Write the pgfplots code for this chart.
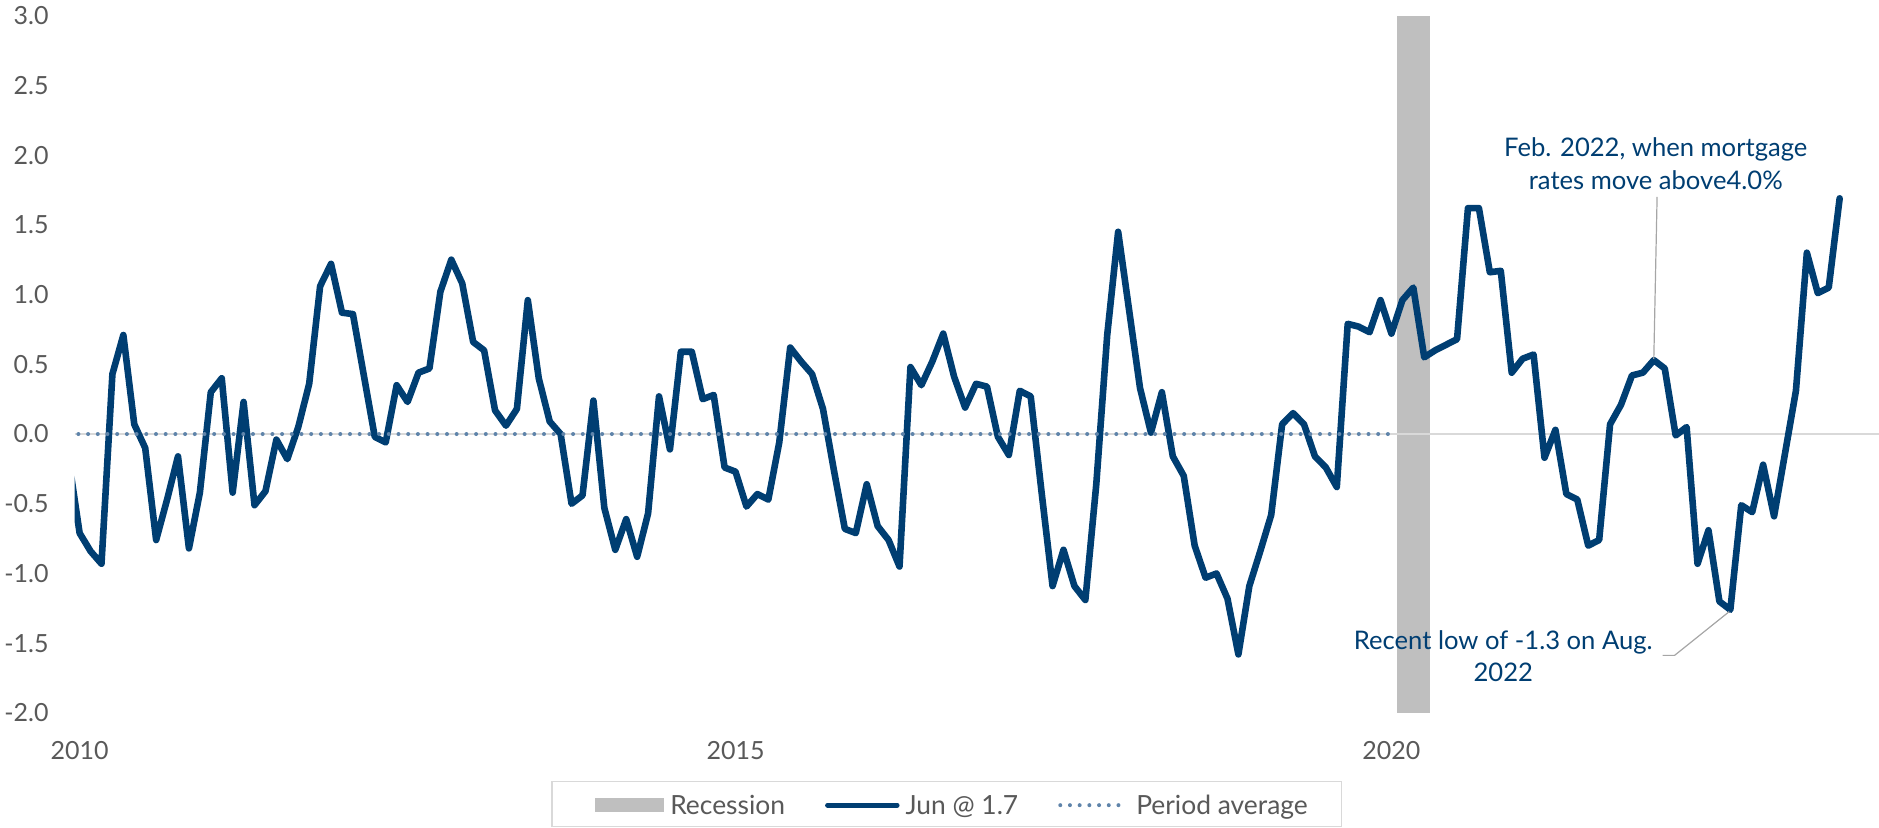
\documentclass[border=0pt]{standalone}
\usepackage{fontspec}
\setmainfont{Lato}
\usepackage{pgfplots}
\usepackage{pgfplotstable}
\pgfplotsset{compat=1.18}
\definecolor{mainblue}{RGB}{0,62,114}
\definecolor{avgblue}{RGB}{95,132,170}
\definecolor{recgray}{RGB}{191,191,191}
\definecolor{zerogray}{RGB}{217,217,217}
\definecolor{tickgray}{RGB}{89,89,89}
\definecolor{leadgray}{RGB}{166,166,166}

\pgfplotstableread{
x y
-1 -0.18
0 -0.71
1 -0.84
2 -0.93
3 0.43
4 0.71
5 0.07
6 -0.10
7 -0.76
8 -0.47
9 -0.16
10 -0.82
11 -0.42
12 0.30
13 0.40
14 -0.42
15 0.23
16 -0.51
17 -0.41
18 -0.04
19 -0.18
20 0.05
21 0.36
22 1.06
23 1.22
24 0.87
25 0.86
26 0.42
27 -0.02
28 -0.06
29 0.35
30 0.23
31 0.44
32 0.47
33 1.02
34 1.25
35 1.08
36 0.66
37 0.60
38 0.17
39 0.06
40 0.18
41 0.96
42 0.40
43 0.09
44 0.00
45 -0.50
46 -0.44
47 0.24
48 -0.53
49 -0.83
50 -0.61
51 -0.88
52 -0.57
53 0.27
54 -0.11
55 0.59
56 0.59
57 0.25
58 0.28
59 -0.24
60 -0.27
61 -0.52
62 -0.43
63 -0.47
64 -0.06
65 0.62
66 0.52
67 0.43
68 0.18
69 -0.26
70 -0.68
71 -0.71
72 -0.36
73 -0.66
74 -0.76
75 -0.95
76 0.48
77 0.35
78 0.52
79 0.72
80 0.41
81 0.19
82 0.36
83 0.34
84 -0.02
85 -0.15
86 0.31
87 0.27
88 -0.42
89 -1.09
90 -0.83
91 -1.09
92 -1.19
93 -0.36
94 0.71
95 1.45
96 0.89
97 0.33
98 0.01
99 0.30
100 -0.16
101 -0.30
102 -0.80
103 -1.03
104 -1.00
105 -1.18
106 -1.58
107 -1.09
108 -0.84
109 -0.58
110 0.07
111 0.15
112 0.07
113 -0.16
114 -0.24
115 -0.38
116 0.79
117 0.77
118 0.73
119 0.96
120 0.72
121 0.96
122 1.05
123 0.55
124 0.60
125 0.64
126 0.68
127 1.62
128 1.62
129 1.16
130 1.17
131 0.44
132 0.54
133 0.57
134 -0.17
135 0.03
136 -0.43
137 -0.47
138 -0.80
139 -0.76
140 0.07
141 0.21
142 0.42
143 0.44
144 0.53
145 0.47
146 -0.01
147 0.05
148 -0.93
149 -0.69
150 -1.20
151 -1.26
152 -0.51
153 -0.56
154 -0.22
155 -0.59
156 -0.14
157 0.31
158 1.30
159 1.01
160 1.05
161 1.69
}\maindata

\pgfplotstableread{
x y
-1 0
120 0
}\avgdata

\pgfplotstableread{
x y
120.5 -2
120.5 3
123.5 3
123.5 -2
}\recdata

\begin{document}
\begin{tikzpicture}
\useasboundingbox (0,0) rectangle (939.5pt,414pt);
\begin{axis}[
  at={(37.35pt,57.5pt)}, anchor=south west,
  scale only axis, width=902.15pt, height=348.7pt,
  xmin=-0.45, xmax=164.6, ymin=-2, ymax=3,
  axis line style={draw=none},
  tick style={draw=none},
  ytick={-2,-1.5,-1,-0.5,0,0.5,1,1.5,2,2.5,3},
  yticklabels={-2.0,-1.5,-1.0,-0.5,0.0,0.5,1.0,1.5,2.0,2.5,3.0},
  xtick={0,60,120},
  xticklabels={2010,2015,2020},
  yticklabel style={anchor=east, inner sep=0pt, xshift=-12.85pt, text=tickgray, font=\fontsize{12.5}{14}\selectfont},
  xticklabel style={anchor=north, inner sep=0pt, yshift=-14pt, text=tickgray, font=\fontsize{12.5}{14}\selectfont},
  legend columns=3,
  legend style={at={(0.4832,-0.0971)}, anchor=north, draw=zerogray, line width=0.6pt,
    font=\fontsize{13.2}{15}\selectfont, text=tickgray,
    inner xsep=16.65pt, inner ysep=2.55pt,
    nodes={inner sep=0pt, text height=14.25pt, text depth=3.3pt},
    /tikz/every odd column/.append style={column sep=0pt},
    /tikz/every even column/.append style={column sep=20pt}},
]
\addplot[fill=recgray, draw=none,
  legend image code/.code={\path (-4.7pt,0pt); \fill[recgray] (0pt,-4.25pt) rectangle (34.5pt,3.05pt); \path (37.8pt,0pt);}]
  table {\recdata} -- cycle;
\addlegendentry{Recession}
\draw[zerogray, line width=0.8pt] (axis cs:-0.45,0) -- (axis cs:164.6,0);
\addplot[mainblue, line width=3.3pt, line join=round, line cap=round,
  legend image code/.code={\draw[mainblue, line width=2.5pt, line cap=round] (1.25pt,-0.6pt) -- (36pt,-0.6pt); \path (38.6pt,0pt);}]
  table {\maindata};
\addlegendentry{Jun @ 1.7}
\addplot[avgblue, line width=2pt, line cap=round, dash pattern=on 0pt off 4.85pt,
  legend image code/.code={\draw[avgblue, line width=2pt, line cap=round, dash pattern=on 0pt off 4.85pt] (1pt,-0.6pt) -- (30.9pt,-0.6pt); \path (38pt,0pt);}]
  table {\avgdata};
\addlegendentry{Period average}
\node[anchor=base, text=mainblue, inner sep=0pt, font=\fontsize{12.8}{15}\selectfont] at (axis cs:144.18,1.993) {Feb. 2022, when mortgage};
\node[anchor=base, text=mainblue, inner sep=0pt, font=\fontsize{12.8}{15}\selectfont] at (axis cs:144.18,1.756) {rates move above4.0\%};
\draw[leadgray, line width=0.6pt] (axis cs:144.3,1.70) -- (axis cs:144.0,0.538);
\node[anchor=base, text=mainblue, inner sep=0pt, font=\fontsize{12.8}{15}\selectfont] at (axis cs:130.23,-1.543) {Recent low of -1.3 on Aug.};
\node[anchor=base, text=mainblue, inner sep=0pt, font=\fontsize{12.8}{15}\selectfont] at (axis cs:130.23,-1.771) {2022};
\draw[leadgray, line width=0.6pt] (axis cs:144.8,-1.587) -- (axis cs:145.9,-1.587) -- (axis cs:150.9,-1.273);
\end{axis}
\end{tikzpicture}
\end{document}
